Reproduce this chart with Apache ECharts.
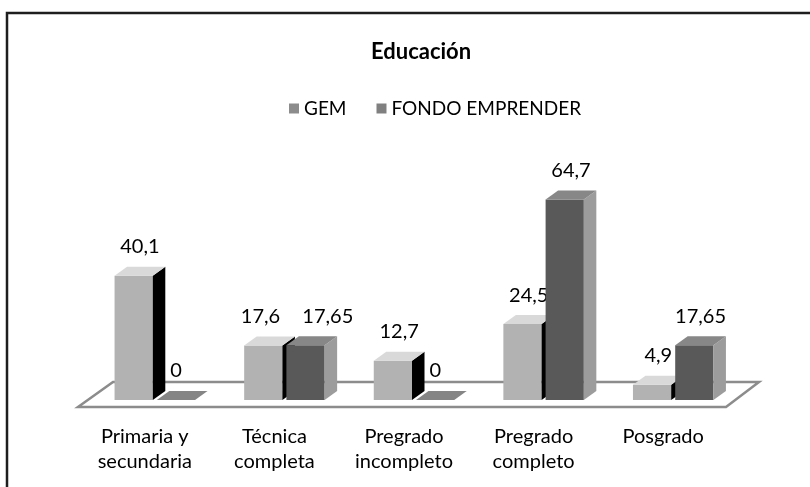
<!DOCTYPE html>
<html>
<head>
<meta charset="utf-8">
<script src="https://cdn.jsdelivr.net/npm/echarts@6/dist/echarts.min.js"></script>
<style>
  html, body { margin: 0; padding: 0; background: #fff; }
  #chart { width: 810px; height: 487px; }
</style>
</head>
<body>
<div id="chart"></div>
<script>
const categories = ['Primaria y\nsecundaria', 'Técnica\ncompleta', 'Pregrado\nincompleto', 'Pregrado\ncompleto', 'Posgrado'];
const gemValues = [40.1, 17.6, 12.7, 24.5, 4.9];
const fondoValues = [0, 17.65, 0, 64.7, 17.65];
const seriesNames = ['GEM', 'FONDO EMPRENDER'];

const FONT = 'Lato, "Open Sans", sans-serif';
const DX = 12.5, DY = -9;

function fmt(v) {
  return String(v).replace('.', ',');
}

// draws one 3d box per category, side = -1 left of centre, +1 right
function boxRenderer(side, colors, own, other) {
  return function (params, api) {
    const cat = api.value(0);
    const val = api.value(1);
    const base = api.coord([cat, 0]);
    const top = api.coord([cat, val]);
    const otherTop = api.coord([cat, other[cat]]);
    const band = api.size([1, 0])[0];
    const w = band * 0.295;
    const x0 = side < 0 ? base[0] - 2 - w : base[0] + 2;
    const y0 = base[1], y1 = top[1];
    const children = [];
    if (y0 - y1 > 0.5) {
      children.push({
        type: 'rect',
        shape: { x: x0, y: y1, width: w, height: y0 - y1 },
        style: { fill: colors.front }
      });
      children.push({
        type: 'polygon',
        shape: { points: [[x0 + w, y1], [x0 + w + DX, y1 + DY], [x0 + w + DX, y0 + DY], [x0 + w, y0]] },
        style: { fill: colors.side }
      });
    }
    children.push({
      type: 'polygon',
      shape: { points: [[x0, y1], [x0 + DX, y1 + DY], [x0 + w + DX, y1 + DY], [x0 + w, y1]] },
      style: { fill: val === 0 ? colors.zero : colors.top }
    });
    // labels at the same height get pushed apart
    let lx = x0 + w / 2 + DX / 2;
    if (val === 0) lx -= 6;
    if (Math.abs(otherTop[1] - y1) < 16) lx += side < 0 ? -9 : 16;
    children.push({
      type: 'text',
      style: {
        text: fmt(val),
        x: lx,
        y: y1 + DY - 20,
        align: 'center',
        verticalAlign: 'middle',
        font: '20px ' + FONT,
        fill: '#000'
      }
    });
    return { type: 'group', children: children };
  };
}

const chart = echarts.init(document.getElementById('chart'));
chart.setOption({
  animation: false,
  backgroundColor: '#fff',
  graphic: [
    {
      type: 'rect',
      shape: { x: 7, y: 13, width: 830, height: 500 },
      style: { fill: null, stroke: '#1e1e1e', lineWidth: 2.5 },
      z: 100
    }
  ],
  title: {
    text: 'Educación',
    left: 366,
    top: 36,
    textStyle: { fontFamily: FONT, fontWeight: 'bold', fontSize: 22, color: '#000' }
  },
  legend: {
    data: seriesNames,
    left: 284,
    top: 94,
    icon: 'rect',
    itemWidth: 10,
    itemHeight: 10,
    itemGap: 30,
    textStyle: { fontFamily: FONT, fontSize: 19, color: '#000' }
  },
  grid: { left: 90, right: 72, top: 183, bottom: 87 },
  xAxis: {
    type: 'category',
    data: categories,
    axisLine: { show: false },
    axisTick: { show: false },
    axisLabel: {
      margin: 24,
      fontFamily: FONT,
      fontSize: 20,
      lineHeight: 25,
      color: '#000',
      padding: [0, 20, 0, 0]
    }
  },
  yAxis: {
    type: 'value',
    min: 0,
    max: 70,
    show: false,
    splitLine: { show: false }
  },
  series: [
    {
      name: 'floor',
      type: 'custom',
      silent: true,
      z: 1,
      data: [[0, 0]],
      renderItem: function (params, api) {
        const cs = params.coordSys;
        const yb = cs.y + cs.height;
        return {
          type: 'polygon',
          shape: {
            points: [
              [cs.x - 12, yb + 7],
              [cs.x + cs.width - 12, yb + 7],
              [cs.x + cs.width + 21, yb - 18],
              [cs.x + 23, yb - 18]
            ]
          },
          style: { fill: '#fff', stroke: '#8c8c8c', lineWidth: 2.5 }
        };
      }
    },
    {
      name: 'GEM',
      type: 'custom',
      z: 2,
      itemStyle: { color: '#8c8c8c' },
      data: gemValues.map((v, i) => [i, v]),
      renderItem: boxRenderer(-1, { front: '#b2b2b2', top: '#d9d9d9', side: '#000000', zero: '#8c8c8c' }, gemValues, fondoValues)
    },
    {
      name: 'FONDO EMPRENDER',
      type: 'custom',
      z: 3,
      itemStyle: { color: '#808080' },
      data: fondoValues.map((v, i) => [i, v]),
      renderItem: boxRenderer(1, { front: '#595959', top: '#878787', side: '#9c9c9c', zero: '#858585' }, fondoValues, gemValues)
    }
  ]
});
</script>
</body>
</html>
